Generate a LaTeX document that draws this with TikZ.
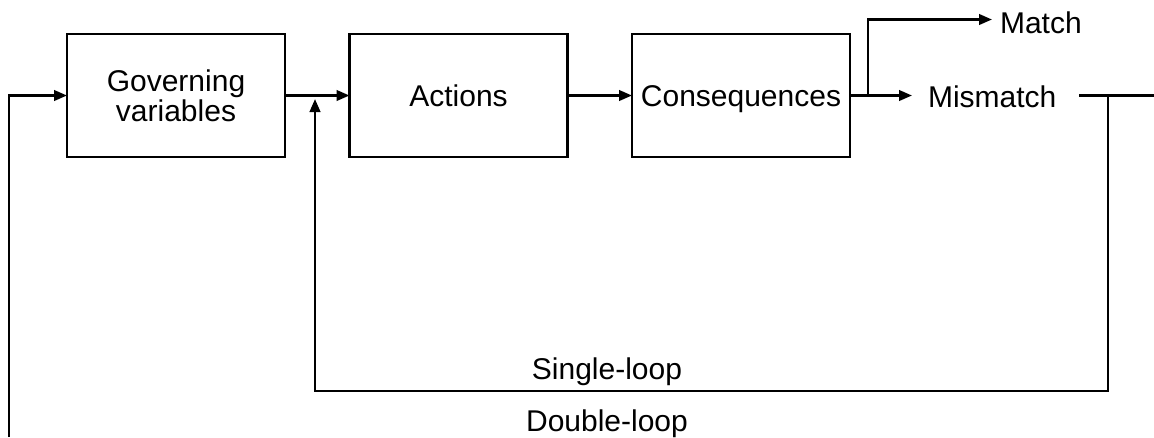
\documentclass[tikz,border=0pt]{standalone}
\usepackage{fontspec}
\setmainfont{Liberation Sans}
\usetikzlibrary{arrows.meta}
\begin{document}
\begin{tikzpicture}[x=1pt,y=-1pt,
  every node/.style={font=\fontsize{30}{30}\selectfont, outer sep=0pt},
  blockbox/.style={draw, line width=2.5pt, minimum width=218pt, minimum height=123pt, inner sep=0pt, align=center},
  oneline/.style={text height=24pt, text depth=3pt},
  link/.style={line width=2.5pt},
  flow/.style={link, -{Triangle[length=13pt,width=10.5pt]}},
  lbl/.style={inner sep=0pt, anchor=base}
]
\useasboundingbox (0,0) rectangle (1154,437);

% blocks of the chain
\node[blockbox] (gov) at (176,95.5) {Governing\\variables};
\node[blockbox, oneline] (act) at (458.5,95.5) {Actions};
\node[blockbox, oneline] (cons) at (741,95.5) {Consequences};

% outcomes
\node[text height=24pt, text depth=0pt, inner ysep=0pt, inner xsep=16pt, anchor=west] (mis) at (912,95.5) {Mismatch};
\node[text height=27pt, text depth=0pt, inner ysep=0pt, inner xsep=8pt, anchor=west] (match) at (992,19.5) {Match};

% loop labels
\node[lbl] (single) at (607,379) {Single-loop};
\node[lbl] (double) at (607,431) {Double-loop};

% helper points of the feedback lines
\coordinate (dstart) at (9,437);
\coordinate (split) at (868,95.5);
\coordinate (mend) at (1154,95.5);
\coordinate (mdrop) at (1108,95.5);
\coordinate (sbottom) at (1108,391);
\coordinate (sup) at (315,99);

% forward chain
\draw[flow] (dstart) |- (gov.west);
\draw[flow] (gov.east) -- (act.west);
\draw[flow] (act.east) -- (cons.west);
\draw[flow] (cons.east) -- (mis.west);
\draw[flow] (split) |- (match.west);
\draw[link] ([xshift=7pt]mis.east) -- (mend);

% single-loop feedback
\draw[flow] (mdrop) -- (sbottom) -| (sup);
\end{tikzpicture}
\end{document}
